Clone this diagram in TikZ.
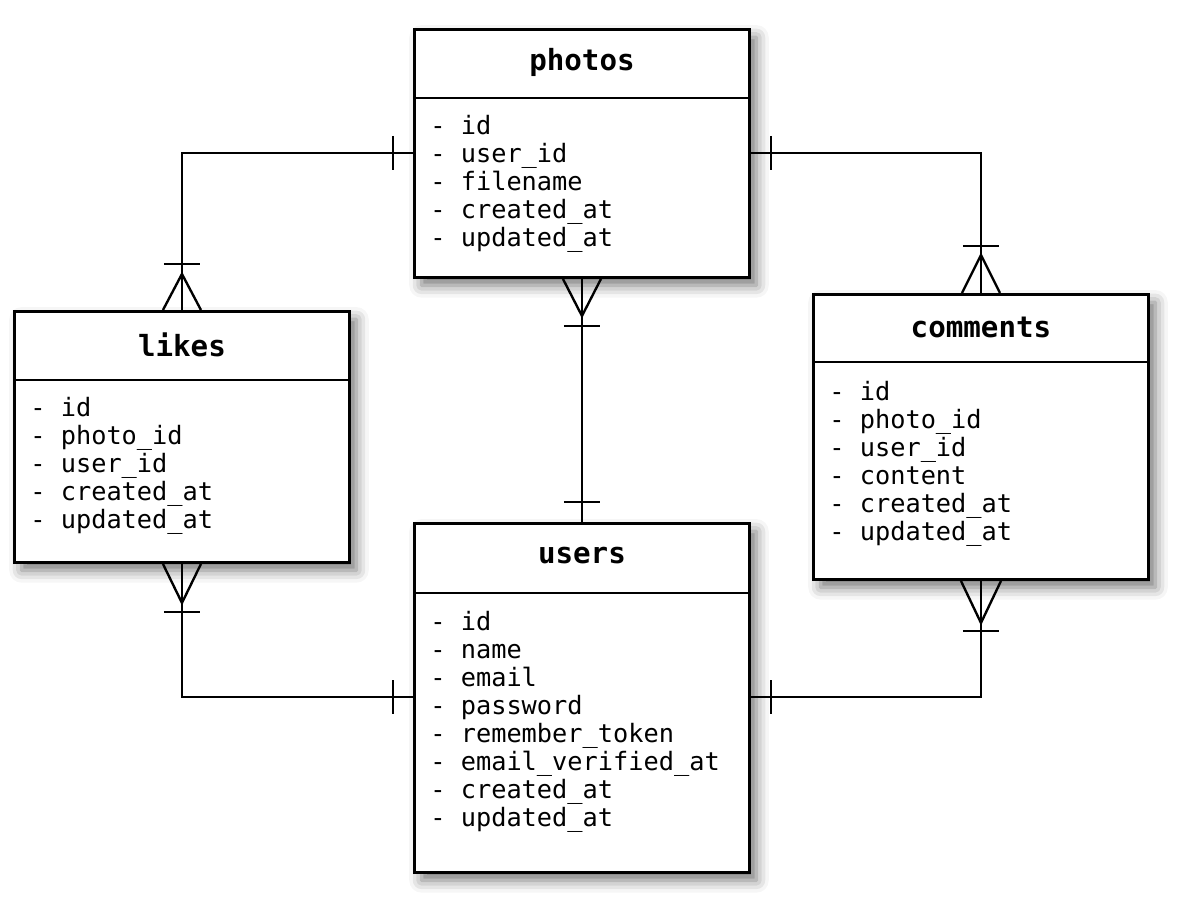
\documentclass[tikz,border=0pt]{standalone}
\usepackage{fontspec}
\setmonofont{DejaVu Sans Mono}
\usepackage{tikz}
\usetikzlibrary{shadows.blur}
\tikzstyle{tbl} = [
    draw,
    rectangle,
    line width=1.7pt,
    fill=white,
    inner sep=0pt,
    anchor=north west,
    minimum width=6.7cm,
    blur shadow={shadow xshift=4pt, shadow yshift=-4.5pt,
        shadow blur radius=7pt, shadow opacity=55}
]
\tikzstyle{hline} = [line width=1.4pt]
\tikzstyle{ttl} = [
    font=\ttfamily\bfseries\fontsize{16.6}{18}\selectfont,
    inner sep=0pt
]
\tikzstyle{fld} = [
    font=\ttfamily\fontsize{14.4}{16}\selectfont,
    inner sep=0pt,
    anchor=base west
]
\tikzstyle{rel} = [line width=1.35pt]

\begin{document}
\begin{tikzpicture}[x=0.02cm,y=-0.02cm]

\useasboundingbox (0,0) rectangle (1185,898);

% tables
\node[tbl, minimum height=4.96cm] (photos) at (413,28) {};
\draw[hline] ([shift={(0,70)}]photos.north west) -- ([shift={(0,70)}]photos.north east);
\node[ttl] (photos-t) at ([shift={(0,34)}]photos.north) {photos};
\foreach \f [count=\i] in {id, user\_id, filename, created\_at, updated\_at}
    \node[fld] (photos-\i) at ([shift={(17,{107+28*(\i-1)})}]photos.north west) {- \f};

\node[tbl, minimum height=5.02cm] (likes) at (13,310) {};
\draw[hline] ([shift={(0,70)}]likes.north west) -- ([shift={(0,70)}]likes.north east);
\node[ttl] (likes-t) at ([shift={(0,35)}]likes.north) {likes};
\foreach \f [count=\i] in {id, photo\_id, user\_id, created\_at, updated\_at}
    \node[fld] (likes-\i) at ([shift={(17,{106+28*(\i-1)})}]likes.north west) {- \f};

\node[tbl, minimum height=5.7cm] (comments) at (812,293) {};
\draw[hline] ([shift={(0,69)}]comments.north west) -- ([shift={(0,69)}]comments.north east);
\node[ttl] (comments-t) at ([shift={(0,34)}]comments.north) {comments};
\foreach \f [count=\i] in {id, photo\_id, user\_id, content, created\_at, updated\_at}
    \node[fld] (comments-\i) at ([shift={(17,{107+28*(\i-1)})}]comments.north west) {- \f};

\node[tbl, minimum height=6.98cm] (users) at (413,522) {};
\draw[hline] ([shift={(0,71)}]users.north west) -- ([shift={(0,71)}]users.north east);
\node[ttl] (users-t) at ([shift={(0,34)}]users.north) {users};
\foreach \f [count=\i] in {id, name, email, password, remember\_token,
        email\_verified\_at, created\_at, updated\_at}
    \node[fld] (users-\i) at ([shift={(17,{108+28*(\i-1)})}]users.north west) {- \f};

% connectors
\coordinate (ph-l) at (photos.west |- 0,153);
\coordinate (ph-r) at (photos.east |- 0,153);
\coordinate (us-l) at (users.west |- 0,697);
\coordinate (us-r) at (users.east |- 0,697);

\draw[rel] (ph-l) -| (likes.north);
\draw[rel] (ph-r) -| (comments.north);
\draw[rel] (photos.south) -- (users.north);
\draw[rel] (likes.south) |- (us-l);
\draw[rel] (comments.south) |- (us-r);

% one
\draw[rel] ([shift={(-20,-17)}]ph-l) -- ++(0,34);
\draw[rel] ([shift={(20,-17)}]ph-r) -- ++(0,34);
\draw[rel] ([shift={(-20,-17)}]us-l) -- ++(0,34);
\draw[rel] ([shift={(20,-17)}]us-r) -- ++(0,34);
\draw[rel] ([shift={(-18,-20)}]users.north) -- ++(36,0);

% many
\draw[rel] ([shift={(-19,0)}]likes.north) -- ++(19,-36) -- ++(19,36);
\draw[rel] ([shift={(-18,-46)}]likes.north) -- ++(36,0);
\draw[rel] ([shift={(-19,0)}]comments.north) -- ++(19,-38) -- ++(19,38);
\draw[rel] ([shift={(-18,-47)}]comments.north) -- ++(36,0);
\draw[rel] ([shift={(-19,0)}]photos.south) -- ++(19,37) -- ++(19,-37);
\draw[rel] ([shift={(-18,47)}]photos.south) -- ++(36,0);
\draw[rel] ([shift={(-19,0)}]likes.south) -- ++(19,39) -- ++(19,-39);
\draw[rel] ([shift={(-18,48)}]likes.south) -- ++(36,0);
\draw[rel] ([shift={(-20,0)}]comments.south) -- ++(20,42) -- ++(20,-42);
\draw[rel] ([shift={(-18,50)}]comments.south) -- ++(36,0);

\end{tikzpicture}
\end{document}
